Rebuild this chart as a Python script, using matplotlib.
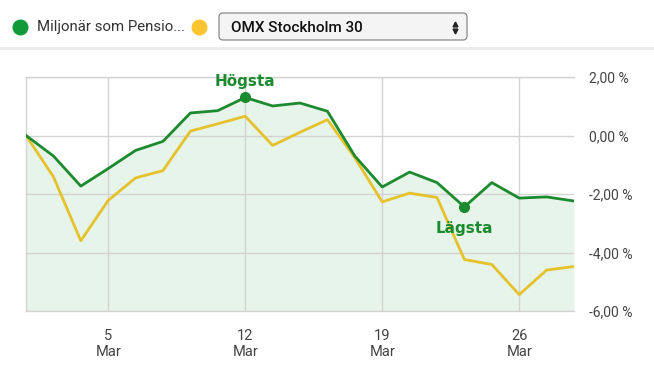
import matplotlib
matplotlib.use('Agg')
import matplotlib.pyplot as plt
from matplotlib.patches import FancyBboxPatch, Rectangle

plt.rcParams['font.family'] = ['Roboto', 'DejaVu Sans']

# trading days 28 Feb .. 28 Mar, values in percent
fund = [0.00, -0.70, -1.73, -1.13, -0.51, -0.20, 0.77, 0.85, 1.30, 1.01, 1.11,
        0.83, -0.70, -1.76, -1.25, -1.61, -2.44, -1.61, -2.14, -2.10, -2.24]
omx = [0.00, -1.41, -3.60, -2.22, -1.45, -1.20, 0.15, 0.40, 0.66, -0.34, 0.11,
       0.54, -0.76, -2.27, -1.97, -2.12, -4.24, -4.41, -5.44, -4.60, -4.48]
tick_pos = [3, 8, 13, 18]
tick_labels = ['5\nMar', '12\nMar', '19\nMar', '26\nMar']
y_ticks = [2, 0, -2, -4, -6]
y_labels = ['2,00 %', '0,00 %', '-2,00 %', '-4,00 %', '-6,00 %']
fund_name = 'Miljonär som Pensio...'
index_name = 'OMX Stockholm 30'

GREEN = '#1c8a2e'
YELLOW = '#e5c22c'
FILL = '#e7f4e9'
GRID = '#d3d3d3'

W, H = 654, 369
fig = plt.figure(figsize=(W / 100, H / 100), dpi=100)

# header drawn in pixel coordinates
hdr = fig.add_axes([0, 0, 1, 1])
hdr.set_xlim(0, W)
hdr.set_ylim(H, 0)
hdr.axis('off')
hdr.add_patch(Rectangle((0, 47), W, 3, color='#ebebeb', lw=0))
hdr.plot([20], [27], 'o', color='#129a3a', ms=10.5)
hdr.text(37, 27.5, fund_name, fontsize=10.8, color='#333333', va='center', ha='left')
hdr.plot([199], [27], 'o', color='#fcc530', ms=10.5)
hdr.add_patch(FancyBboxPatch((219, 13), 248, 27, boxstyle='round,pad=0,rounding_size=4',
                             fc='#f4f4f4', ec='#8a8a8a', lw=0.9))
hdr.text(231, 27.5, index_name, fontsize=11, color='#111111', va='center', ha='left',
         fontweight='medium')
hdr.plot([455], [24], marker='^', color='#222222', ms=3.5)
hdr.plot([455], [31], marker='v', color='#222222', ms=3.5)

ax = fig.add_axes([26 / W, 1 - 311 / H, 548 / W, 234 / H])
x = list(range(len(fund)))
ax.fill_between(x, fund, -6, color=FILL, lw=0, zorder=1)
ax.plot(x, omx, color=YELLOW, lw=2, zorder=3)
ax.plot(x, fund, color=GREEN, lw=2, zorder=4)

hi = fund.index(max(fund))
lo = fund.index(min(fund))
ax.plot([hi, lo], [fund[hi], fund[lo]], 'o', color=GREEN, ms=7, zorder=5)
ax.annotate('Högsta', (hi, fund[hi]), xytext=(0, 6), textcoords='offset points',
            ha='center', va='bottom', color=GREEN, fontsize=11, fontweight='bold',
            family=['DejaVu Sans'])
ax.annotate('Lägsta', (lo, fund[lo]), xytext=(0, -10.5), textcoords='offset points',
            ha='center', va='top', color=GREEN, fontsize=11, fontweight='bold',
            family=['DejaVu Sans'])

ax.set_xlim(0, len(fund) - 1)
ax.set_ylim(-6, 2)
ax.set_xticks(tick_pos)
ax.set_xticklabels(tick_labels, fontsize=10.5, color='#444444', linespacing=1.2)
ax.set_yticks(y_ticks)
ax.set_yticklabels(y_labels, fontsize=10, color='#444444')
ax.yaxis.tick_right()
ax.tick_params(length=0)
ax.tick_params(axis='y', pad=11)
ax.tick_params(axis='x', pad=13)
ax.grid(True, color=GRID, lw=1, zorder=2)
ax.set_axisbelow(False)
for s in ax.spines.values():
    s.set_color(GRID)
    s.set_linewidth(1)
ax.spines['right'].set_visible(False)

fig.savefig('out.png', dpi=100)
